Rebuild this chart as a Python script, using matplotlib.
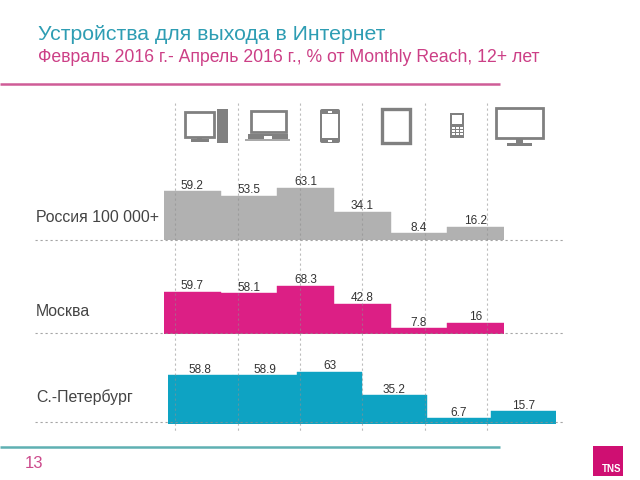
import matplotlib
matplotlib.use("Agg")
import matplotlib.pyplot as plt
from matplotlib.patches import Rectangle, FancyBboxPatch

plt.rcParams['font.family'] = ['Liberation Sans', 'DejaVu Sans']

# values
regions = ["Россия 100 000+", "Москва", "С.-Петербург"]
russia = [59.2, 53.5, 63.1, 34.1, 8.4, 16.2]
moscow = [59.7, 58.1, 68.3, 42.8, 7.8, 16]
spb = [58.8, 58.9, 63, 35.2, 6.7, 15.7]

title = "Устройства для выхода в Интернет"
subtitle = "Февраль 2016 г.- Апрель 2016 г., % от Monthly Reach, 12+ лет"
page_number = "13"

GRAY = "#b1b1b1"
PINK = "#dc1f85"
BLUE = "#0ea3c3"
ICON = "#808080"
W, H = 640, 480


def panel(values, left, right, base, scale, color):
    # one step-like bar group, px-positioned; scale is pixels per percent
    top = base - 70
    ax = fig.add_axes([left / W, 1 - base / H, (right - left) / W, (base - top) / H])
    ax.set_xlim(0, len(values))
    ax.set_ylim(0, 70 / scale)
    ax.axis("off")
    xs = range(len(values))
    ax.bar(xs, values, width=1, align="edge", color=color, edgecolor=color, linewidth=0.3)
    for x, v in zip(xs, values):
        ax.annotate(str(v), (x + 0.5, v), xytext=(0, 3.8), textcoords="offset points",
                    ha="center", va="center", fontsize=8.5, color="#333333",
                    annotation_clip=False)
    return ax


def box(x0, y0, x1, y1, **kw):
    # y grows downward on the page axes
    page.add_patch(Rectangle((x0, y0), x1 - x0, y1 - y0, **kw))


def screen(x0, y0, x1, y1, lw=2.0):
    box(x0, y0, x1, y1, facecolor="white", edgecolor=ICON, linewidth=lw)


fig = plt.figure(figsize=(6.4, 4.8), dpi=100, facecolor="white")

panel(russia, 164, 504, 240, 0.828, GRAY)
panel(moscow, 164, 504, 334, 0.708, PINK)
panel(spb, 168, 556, 424, 0.83, BLUE)

# page layer in pixel coordinates, above the bars
page = fig.add_axes([0, 0, 1, 1], facecolor="none")
page.set_xlim(0, W)
page.set_ylim(H, 0)
page.axis("off")

for x in [175, 238, 300, 362, 425, 487]:
    page.plot([x, x], [103, 431], color="#8f8f8f", linewidth=0.8, linestyle=(0, (2, 2.5)), alpha=0.6)
for y in [239.5, 333, 422]:
    page.plot([35, 565], [y, y], color="#8f8f8f", linewidth=0.8, linestyle=(0, (2, 2.5)), alpha=0.8)

page.plot([0, 500], [84, 84], color="#cf5c97", linewidth=1.8, solid_capstyle="butt")
page.plot([0, 500], [447, 447], color="#5fb0b2", linewidth=1.8, solid_capstyle="butt")

page.text(38, 35, title, fontsize=15.3, color="#2e9db3", va="center", ha="left")
page.text(38, 58, subtitle, fontsize=12.7, color="#cc3f86", va="center", ha="left")
for name, y in zip(regions, [217, 311, 397]):
    page.text(36, y, name, fontsize=11.4, color="#444444", va="center", ha="left")
page.text(25, 463, page_number, fontsize=12, color="#cc4a8c", va="center", ha="left")

# TNS logo
box(593, 446, 623, 476, facecolor="#cf0f72", edgecolor="none")
page.text(621.5, 474.5, "TNS", fontsize=7, fontweight="bold", color="white", ha="right", va="bottom")

# desktop
screen(185, 112, 214, 137)
box(197, 137, 202, 140, facecolor=ICON, edgecolor="none")
box(191, 139, 209, 142, facecolor=ICON, edgecolor="none")
box(217, 109, 228, 143, facecolor=ICON, edgecolor="none")
# laptop
screen(251, 111, 286, 132)
box(248, 134, 288, 139, facecolor=ICON, edgecolor="none")
box(245, 139, 290, 141, facecolor="#a8a8a8", edgecolor="none")
box(264, 136, 272, 139, facecolor="white", edgecolor="none")
# smartphone
page.add_patch(FancyBboxPatch((320, 109), 20, 34, boxstyle="round,pad=0,rounding_size=2",
                              facecolor=ICON, edgecolor="none"))
box(322, 114, 338, 138, facecolor="white", edgecolor="none")
box(328, 111, 332, 112.5, facecolor="white", edgecolor="none")
box(328, 139.5, 332, 141.5, facecolor="white", edgecolor="none")
# tablet
screen(382, 109, 410, 143, lw=2.4)
# feature phone
box(450, 113, 464, 138, facecolor=ICON, edgecolor="none")
box(452, 115, 462, 124, facecolor="white", edgecolor="none")
for cx in [452, 456, 460]:
    for cy in [127, 130, 133]:
        box(cx, cy, cx + 2.5, cy + 2, facecolor="white", edgecolor="none")
# tv
screen(496, 108, 543, 138)
box(516, 138, 523, 143, facecolor=ICON, edgecolor="none")
box(507, 143, 532, 145.5, facecolor=ICON, edgecolor="none")

fig.savefig("out.png", dpi=100)
